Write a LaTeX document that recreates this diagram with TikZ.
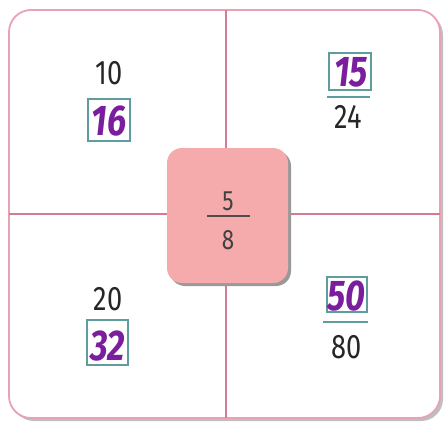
\documentclass[tikz,border=0pt]{standalone}
\usepackage{fontspec}
\setmainfont{Fira Sans}
\usepackage{graphicx}
\definecolor{framepink}{HTML}{E8A2B4}
\definecolor{linepink}{HTML}{D47A92}
\definecolor{boxpink}{HTML}{F5ABAB}
\definecolor{ansviolet}{HTML}{7A1E9E}
\definecolor{ansframe}{HTML}{5E9C9E}
\newcommand{\narrowtxt}[1]{\scalebox{0.8}[1]{#1}}
\tikzset{
  given/.style={inner sep=0pt, font=\fontsize{34}{34}\selectfont, text=black!85},
  answer/.style={inner sep=0pt, font=\fontsize{43}{43}\selectfont\bfseries\itshape, text=ansviolet},
  ansbox/.style={draw=ansframe, line width=1.2pt},
  barline/.style={draw=ansframe, line width=1.6pt},
}
\begin{document}
\begin{tikzpicture}[x=1pt,y=-1pt]
\useasboundingbox (0,0) rectangle (446,428);
% outer frame
\fill[black!25, rounded corners=22pt] (12,13) rectangle (443,421);
\node[draw=framepink, line width=1.8pt, fill=white, rounded corners=22pt,
      minimum width=431pt, minimum height=408pt, inner sep=0pt] (frame) at (224.5,214) {};
\coordinate (ntop) at (226,10);
\coordinate (nbot) at (226,418);
\coordinate (wl) at (9,214);
\coordinate (wr) at (440,214);
\draw[linepink, line width=1.5pt] (ntop) -- (nbot);
\draw[linepink, line width=1.5pt] (wl) -- (wr);
% centre box
\fill[black!40, rounded corners=15pt] (170,151) rectangle (291,286);
\node[fill=boxpink, rounded corners=15pt, minimum width=121pt, minimum height=135pt,
      inner sep=0pt] (centre) at (227.5,215.5) {};
\node[given, font=\fontsize{28}{28}\selectfont, text=black!75] (c5) at (228,201) {\narrowtxt{5}};
\node[given, font=\fontsize{28}{28}\selectfont, text=black!75] (c8) at (228,240) {\narrowtxt{8}};
\draw[black!70, line width=1.3pt] (207,216) -- (250,216);
% top left
\node[given] (n10) at (109,73) {\narrowtxt{10}};
\node[ansbox, minimum width=42pt, minimum height=42pt, inner sep=0pt] (b16) at (109,120) {};
\node[answer] (n16) at (109,121) {\narrowtxt{16}};
\draw[barline] (b16.north west) -- (b16.north east);
% top right
\node[ansbox, minimum width=42pt, minimum height=37pt, inner sep=0pt] (b15) at (350,71.5) {};
\node[answer] (n15) at (351,72) {\narrowtxt{15}};
\draw[barline] (327,97) -- (370,97);
\node[given] (n24) at (348,117) {\narrowtxt{24}};
% bottom left
\node[given] (n20) at (108,299) {\narrowtxt{20}};
\node[ansbox, minimum width=41pt, minimum height=45pt, inner sep=0pt] (b32) at (107.5,342.5) {};
\node[answer] (n32) at (108,346) {\narrowtxt{32}};
\draw[barline] (b32.north west) -- (b32.north east);
% bottom right
\node[ansbox, minimum width=40pt, minimum height=35pt, inner sep=0pt] (b50) at (347,294.5) {};
\node[answer] (n50) at (346,296) {\narrowtxt{50}};
\draw[barline] (323,322) -- (368,322);
\node[given] (n80) at (347,347) {\narrowtxt{80}};
\end{tikzpicture}
\end{document}
